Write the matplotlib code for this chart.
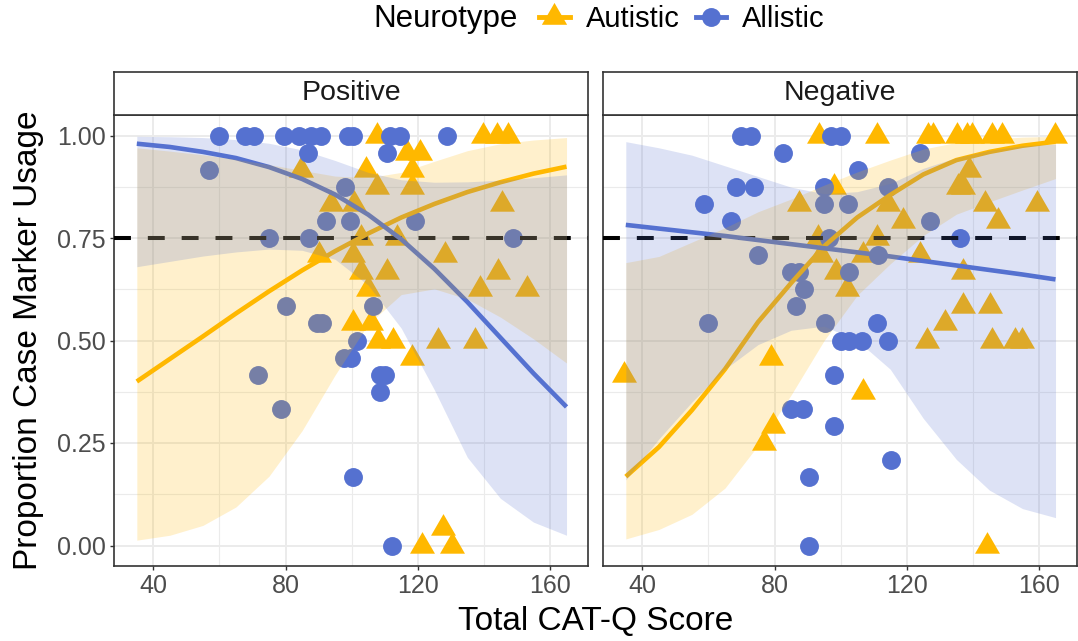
import matplotlib
matplotlib.use("Agg")
import matplotlib.pyplot as plt
from matplotlib.lines import Line2D

plt.rcParams['font.family'] = ['Liberation Sans', 'DejaVu Sans']

# point data
pos_aut_x = [107.8, 139.7, 144.0, 147.2, 116.8, 120.7, 104.2, 118.3, 84.6, 107.8, 118.3,
             145.4, 93.6, 100.8, 90.0, 102.7, 113.8, 100.5, 128.3, 102.7, 110.8, 138.8,
             144.2, 153.0, 104.8, 100.5, 105.7, 108.0, 112.6, 126.1, 137.3, 118.3,
             127.7, 121.3, 130.4]
pos_aut_y = [1, 1, 1, 1, 0.958, 0.958, 0.917, 0.917, 0.917, 0.875, 0.875,
             0.833, 0.833, 0.833, 0.708, 0.75, 0.75, 0.708, 0.708, 0.667, 0.667, 0.625,
             0.667, 0.625, 0.625, 0.542, 0.542, 0.5, 0.5, 0.5, 0.5, 0.458,
             0.042, 0.0, 0.0]
pos_all_x = [59.9, 67.7, 70.4, 79.5, 84.0, 87.6, 90.6, 99.0, 100.5, 111.7, 114.7, 128.9,
             86.7, 110.8, 56.9, 98.1, 92.1, 99.6, 119.2, 75.0, 87.0, 148.7,
             80.0, 106.6, 89.4, 91.0, 101.7, 97.8, 99.9, 71.6, 108.7, 110.2,
             108.7, 78.6, 100.5, 112.3]
pos_all_y = [1, 1, 1, 1, 1, 1, 1, 1, 1, 1, 1, 1,
             0.958, 0.958, 0.917, 0.875, 0.792, 0.792, 0.792, 0.75, 0.75, 0.75,
             0.583, 0.583, 0.542, 0.542, 0.5, 0.458, 0.458, 0.417, 0.417, 0.417,
             0.375, 0.333, 0.167, 0.0]

neg_aut_x = [93.4, 111.1, 126.5, 127.9, 135.3, 138.3, 139.8, 145.8, 148.8, 164.7,
             138.9, 135.5, 137.0, 97.9, 87.3, 114.2, 143.7, 159.4, 119.0, 147.6,
             111.1, 93.0, 106.9, 94.0, 124.1, 137.1, 98.5, 102.0, 137.1, 145.2,
             131.6, 126.2, 145.8, 152.7, 154.9, 106.9, 144.3, 34.6, 78.9, 79.5, 76.8]
neg_aut_y = [1, 1, 1, 1, 1, 1, 1, 1, 1, 1,
             0.917, 0.875, 0.875, 0.875, 0.833, 0.833, 0.833, 0.833, 0.792, 0.792,
             0.75, 0.75, 0.708, 0.708, 0.708, 0.667, 0.667, 0.625, 0.583, 0.583,
             0.542, 0.5, 0.5, 0.5, 0.5, 0.375, 0.0, 0.417, 0.458, 0.292, 0.25]
neg_all_x = [69.8, 72.9, 97.0, 100.0, 82.5, 124.1, 105.1, 68.3, 73.8, 94.9, 114.2,
             58.7, 94.9, 102.1, 66.8, 127.1, 96.4, 136.2, 75.0, 111.4,
             84.9, 87.3, 102.4, 88.8, 86.4, 59.9, 95.2, 111.1,
             100.0, 102.4, 106.6, 114.2, 97.9, 84.9, 88.5, 97.9, 115.1, 90.3, 90.3]
neg_all_y = [1, 1, 1, 1, 0.958, 0.958, 0.917, 0.875, 0.875, 0.875, 0.875,
             0.833, 0.833, 0.833, 0.792, 0.792, 0.75, 0.75, 0.708, 0.708,
             0.667, 0.667, 0.667, 0.625, 0.583, 0.542, 0.542, 0.542,
             0.5, 0.5, 0.5, 0.5, 0.417, 0.333, 0.333, 0.292, 0.208, 0.167, 0.0]

# fitted curves and 95% bands
smooth_x = [35, 45, 55, 65, 75, 85, 95, 105, 115, 125, 135, 145, 155, 165]

pos_aut_fit = [0.40, 0.455, 0.51, 0.566, 0.62, 0.671, 0.718, 0.761, 0.80, 0.833, 0.862, 0.886, 0.907, 0.924]
pos_aut_lo = [0.013, 0.025, 0.049, 0.094, 0.169, 0.28, 0.416, 0.54, 0.612, 0.626, 0.601, 0.557, 0.504, 0.445]
pos_aut_hi = [0.97, 0.962, 0.953, 0.942, 0.929, 0.915, 0.901, 0.897, 0.91, 0.937, 0.963, 0.98, 0.989, 0.995]

pos_all_fit = [0.98, 0.972, 0.96, 0.945, 0.923, 0.894, 0.856, 0.807, 0.747, 0.675, 0.594, 0.507, 0.42, 0.338]
pos_all_lo = [0.68, 0.693, 0.706, 0.716, 0.723, 0.72, 0.698, 0.635, 0.53, 0.38, 0.215, 0.115, 0.057, 0.025]
pos_all_hi = [0.998, 0.997, 0.995, 0.99, 0.981, 0.965, 0.939, 0.91, 0.892, 0.886, 0.887, 0.891, 0.897, 0.904]

neg_aut_fit = [0.168, 0.24, 0.33, 0.43, 0.545, 0.64, 0.73, 0.80, 0.855, 0.905, 0.94, 0.96, 0.975, 0.985]
neg_aut_lo = [0.016, 0.039, 0.076, 0.14, 0.244, 0.367, 0.50, 0.61, 0.687, 0.756, 0.808, 0.838, 0.867, 0.895]
neg_aut_hi = [0.69, 0.705, 0.74, 0.775, 0.814, 0.845, 0.879, 0.911, 0.94, 0.967, 0.983, 0.991, 0.996, 0.998]

neg_all_fit = [0.782, 0.773, 0.764, 0.755, 0.745, 0.735, 0.725, 0.715, 0.705, 0.694, 0.683, 0.672, 0.661, 0.649]
neg_all_lo = [0.16, 0.26, 0.35, 0.43, 0.49, 0.525, 0.535, 0.50, 0.43, 0.31, 0.21, 0.135, 0.09, 0.068]
neg_all_hi = [0.985, 0.97, 0.952, 0.926, 0.9, 0.874, 0.858, 0.863, 0.883, 0.92, 0.946, 0.964, 0.975, 0.979]

panels = ["Positive", "Negative"]
x_ticks = [40, 80, 120, 160]
y_ticks = [0.0, 0.25, 0.50, 0.75, 1.00]
y_labels = ["0.00", "0.25", "0.50", "0.75", "1.00"]

ORANGE = "#FFB800"
BLUE = "#5571D0"
TRI = [(0, 1), (-0.866, -0.5), (0.866, -0.5)]

W, H = 1078, 641
fig = plt.figure(figsize=(W / 100, H / 100), dpi=100)

panel_data = [
    (pos_aut_x, pos_aut_y, pos_all_x, pos_all_y,
     pos_aut_fit, pos_aut_lo, pos_aut_hi, pos_all_fit, pos_all_lo, pos_all_hi),
    (neg_aut_x, neg_aut_y, neg_all_x, neg_all_y,
     neg_aut_fit, neg_aut_lo, neg_aut_hi, neg_all_fit, neg_all_lo, neg_all_hi),
]
lefts = [114, 603]
pw = 474
bottom_px, top_px, strip_top = 566, 115, 72

for i, (name, d) in enumerate(zip(panels, panel_data)):
    ax = fig.add_axes([lefts[i] / W, 1 - bottom_px / H, pw / W, (bottom_px - top_px) / H])
    ax.set_xlim(28.1, 171.5)
    ax.set_ylim(-0.05, 1.05)
    ax.set_xticks(x_ticks)
    ax.set_xticks([60, 100, 140], minor=True)
    ax.set_yticks(y_ticks)
    ax.set_yticks([0.125, 0.375, 0.625, 0.875], minor=True)
    ax.grid(which='major', color='#EBEBEB', lw=1.4, zorder=0)
    ax.grid(which='minor', color='#EBEBEB', lw=0.8, zorder=0)
    ax.set_axisbelow(True)
    ax.tick_params(which='minor', length=0)
    ax.tick_params(which='major', length=3, width=1, color='#333333',
                   labelsize=18, labelcolor='#4D4D4D', pad=3)
    ax.set_xticklabels([str(t) for t in x_ticks])
    if i == 0:
        ax.set_yticklabels(y_labels)
    else:
        ax.tick_params(axis='y', length=0, labelleft=False)
    for s in ax.spines.values():
        s.set_color('#333333')
        s.set_linewidth(1.2)

    ax_x, ax_y, al_x, al_y, af, alo, ahi, bf, blo, bhi = d
    ax.scatter(ax_x, ax_y, marker=TRI, s=430, color=ORANGE, linewidths=0, zorder=2)
    ax.scatter(al_x, al_y, marker='o', s=185, color=BLUE, linewidths=0, zorder=2)
    ax.axhline(0.75, color='black', lw=2.9, dashes=(4.2, 4.2), zorder=3)
    ax.plot(smooth_x, af, color=ORANGE, lw=3.3, zorder=3, solid_capstyle='butt')
    ax.plot(smooth_x, bf, color=BLUE, lw=3.3, zorder=3, solid_capstyle='butt')
    ax.fill_between(smooth_x, alo, ahi, color=ORANGE, alpha=0.2, lw=0, zorder=4)
    ax.fill_between(smooth_x, blo, bhi, color=BLUE, alpha=0.2, lw=0, zorder=4)

    # facet strip
    sx = fig.add_axes([lefts[i] / W, 1 - top_px / H, pw / W, (top_px - strip_top) / H])
    sx.set_xticks([])
    sx.set_yticks([])
    sx.set_facecolor('white')
    for s in sx.spines.values():
        s.set_color('#333333')
        s.set_linewidth(1.2)
    sx.text(0.5, 0.5, name, ha='center', va='center', fontsize=20.5,
            color='#1A1A1A', transform=sx.transAxes)

fig.text((114 + 1077) / 2 / W, 1 - 621 / H, "Total CAT-Q Score", ha='center', va='center', fontsize=24)
fig.text(29 / W, 1 - 340 / H, "Proportion Case Marker Usage", ha='center', va='center',
         rotation=90, fontsize=24)

# legend
fig.text(373 / W, 1 - 19 / H, "Neurotype", ha='left', va='center', fontsize=22.5)
handles = [
    Line2D([], [], color=ORANGE, lw=3.5, marker=TRI, markersize=21, markeredgewidth=0),
    Line2D([], [], color=BLUE, lw=3.5, marker='o', markersize=13.6, markeredgewidth=0),
]
fig.legend(handles, ["Autistic", "Allistic"], loc='center left',
           bbox_to_anchor=(539 / W, 1 - 19 / H), ncol=2, frameon=False,
           fontsize=21, handlelength=1.05, handletextpad=0.55, columnspacing=0.55,
           borderpad=0, borderaxespad=0)

fig.savefig("out.png", dpi=100)
